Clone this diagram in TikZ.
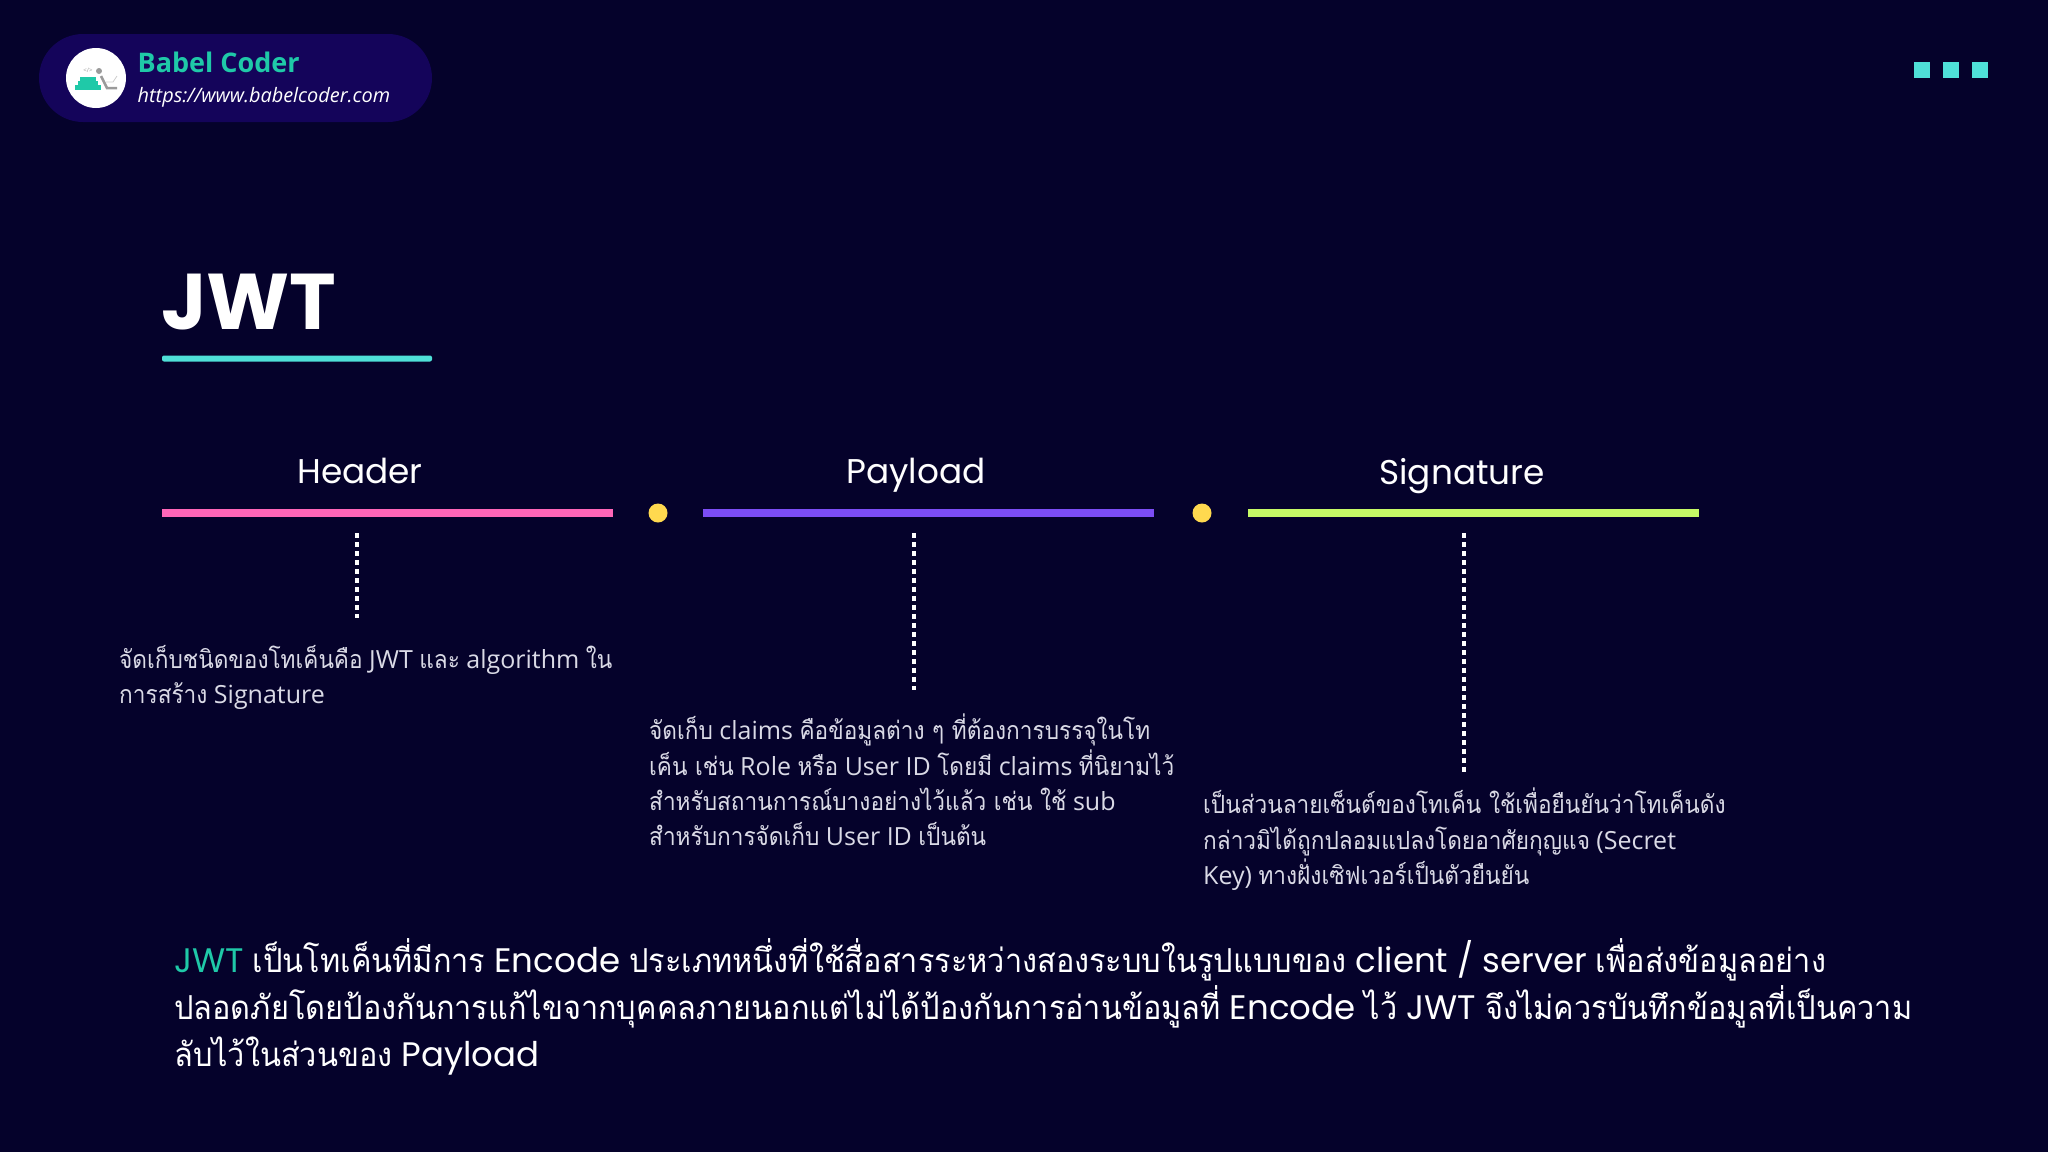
\documentclass[tikz,border=0pt]{standalone}
\usepackage{fontspec}
\setmainfont{Open Sans}
\newfontfamily\popfont{Poppins}
\newfontfamily\thaifont[Script=Thai,FakeStretch=0.905]{Loma}
\newfontfamily\thaibig[Script=Thai,Scale=0.971,FakeStretch=0.93]{Loma}
\newcommand{\tha}[1]{{\thaifont #1}}
\newcommand{\thb}[1]{{\thaibig #1}}
\definecolor{bgcol}{HTML}{05022B}
\definecolor{pillcol}{HTML}{14045A}
\definecolor{tealcol}{HTML}{1FC9A8}
\definecolor{aquacol}{HTML}{4FE0D8}
\definecolor{pinkcol}{HTML}{FF66B8}
\definecolor{violetcol}{HTML}{7C4DF5}
\definecolor{limecol}{HTML}{C6FA66}
\definecolor{dotcol}{HTML}{FFD94F}
\definecolor{desccol}{HTML}{DADAE6}
\definecolor{logogray}{HTML}{9A9A9A}
\begin{document}
\begin{tikzpicture}[x=1pt,y=-1pt,
		bar/.style={rectangle, inner sep=0pt, minimum width=451pt, minimum height=8pt},
		gapdot/.style={circle, inner sep=0pt, minimum size=19pt, fill=dotcol},
		leader/.style={draw=white, line width=4.5pt, dash pattern=on 5pt off 4pt},
		heading/.style={inner sep=0pt, anchor=base, text=white, font=\popfont\fontsize{34.3}{40}\selectfont},
		desc/.style={inner sep=0pt, anchor=north west, align=left, text=desccol, font=\fontsize{25}{35.2}\selectfont},
		square/.style={rectangle, inner sep=0pt, minimum size=16pt, fill=aquacol}]
	\fill[bgcol] (0,0) rectangle (2048,1152);
	\useasboundingbox (0,0) rectangle (2048,1152);
	\fill[pillcol, rounded corners=44pt] (39,34) rectangle (432,122);
	\node[circle, fill=white, inner sep=0pt, minimum size=60pt] (Logo) at (96,78) {};
	\fill[tealcol] (75,85) rectangle (101,90);
	\fill[tealcol] (78,81) rectangle (98,85);
	\fill[tealcol] (80,77) rectangle (96,81);
	\fill[logogray] (99,71) circle (3pt);
	\draw[logogray, line width=2.5pt] (101,76) -- (107,88) -- (117,88);
	\draw[logogray!50, line width=0.8pt] (106,82) -- (113,82) -- (117,76);
	\node[inner sep=0pt, text=logogray, font=\fontsize{6}{6}\selectfont] (Code) at (88,70) {</>};
	\node[inner sep=0pt, anchor=base west, text=tealcol, font=\bfseries\fontsize{27}{30}\selectfont] (Brand) at (137.5,72) {Babel Coder};
	\node[inner sep=0pt, anchor=base west, text=white, font=\itshape\fontsize{19.9}{24}\selectfont] (Url) at (137.5,102) {https://www.babelcoder.com};
	\foreach \sx/\sname in {1922/a, 1951/b, 1980/c}
		\node[square] (Sq\sname) at (\sx,70) {};
	\node[inner sep=0pt, anchor=base west, text=white, font=\popfont\bfseries\fontsize{79}{80}\selectfont] (Title) at (161,329) {JWT};
	\fill[aquacol, rounded corners=2pt] (162,355.5) rectangle (432,361.5);
	\node[heading] (Header) at (360,483.5) {Header};
	\node[heading] (Payload) at (916,483.5) {Payload};
	\node[heading] (Signature) at (1462,484) {Signature};
	\node[bar, fill=pinkcol] (BarH) at (387.5,513) {};
	\node[bar, fill=violetcol] (BarP) at (928.5,513) {};
	\node[bar, fill=limecol] (BarS) at (1473.5,513) {};
	\node[gapdot] (DotA) at (658,513) {};
	\node[gapdot] (DotB) at (1202,513) {};
	\coordinate (TopH) at (357,533);
	\coordinate (EndH) at (357,618);
	\coordinate (TopP) at (914,533);
	\coordinate (EndP) at (914,690);
	\coordinate (TopS) at (1464,533);
	\coordinate (EndS) at (1464,773);
	\draw[leader] (TopH) -- (EndH);
	\draw[leader] (TopP) -- (EndP);
	\draw[leader] (TopS) -- (EndS);
	\node[desc] (DescH) at (119,645) {\tha{จัดเก็บชนิดของโทเค็นคือ} JWT \tha{และ} algorithm \tha{ใน}\\
		\tha{การสร้าง} Signature};
	\node[desc] (DescP) at (649,714) {\tha{จัดเก็บ} claims \tha{คือข้อมูลต่าง ๆ ที่ต้องการบรรจุในโท}\\
		\tha{เค็น เช่น} Role \tha{หรือ} User ID \tha{โดยมี} claims \tha{ที่นิยามไว้}\\
		\tha{สำหรับสถานการณ์บางอย่างไว้แล้ว เช่น ใช้} sub\\
		\tha{สำหรับการจัดเก็บ} User ID \tha{เป็นต้น}};
	\node[desc] (DescS) at (1203,788) {\tha{เป็นส่วนลายเซ็นต์ของโทเค็น ใช้เพื่อยืนยันว่าโทเค็นดัง}\\
		\tha{กล่าวมิได้ถูกปลอมแปลงโดยอาศัยกุญแจ} (Secret\\
		Key) \tha{ทางฝั่งเซิฟเวอร์เป็นตัวยืนยัน}};
	\node[inner sep=0pt, anchor=north west, align=left, text=white, font=\popfont\fontsize{34}{47}\selectfont] (Summary) at (174,938) {\textcolor{tealcol}{JWT} \thb{เป็นโทเค็นที่มีการ} Encode \thb{ประเภทหนึ่งที่ใช้สื่อสารระหว่างสองระบบในรูปแบบของ} client / server \thb{เพื่อส่งข้อมูลอย่าง}\\
		\thb{ปลอดภัยโดยป้องกันการแก้ไขจากบุคคลภายนอกแต่ไม่ได้ป้องกันการอ่านข้อมูลที่} Encode \thb{ไว้} JWT \thb{จึงไม่ควรบันทึกข้อมูลที่เป็นความ}\\
		\thb{ลับไว้ในส่วนของ} Payload};
\end{tikzpicture}
\end{document}
